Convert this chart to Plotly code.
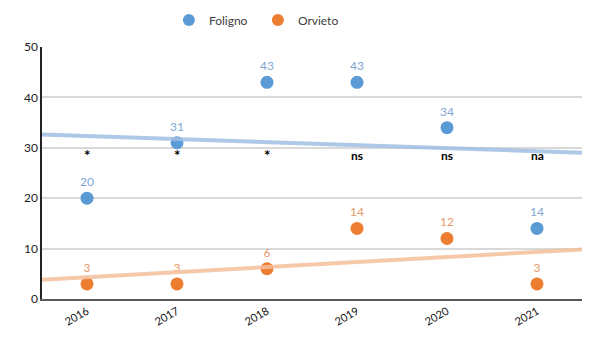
import numpy as np
import plotly.graph_objects as go

years = ["2016", "2017", "2018", "2019", "2020", "2021"]
foligno = [20, 31, 43, 43, 34, 14]
orvieto = [3, 3, 6, 14, 12, 3]
signif = ["*", "*", "*", "ns", "ns", "na"]
signif_y = 28.5

blue = "#5b9bd5"
orange = "#ed7d31"

fig = go.Figure()

xi = np.arange(len(years))
xr = np.array([-0.5, len(years) - 0.5])
for vals, col in [(foligno, "rgba(160,190,228,0.85)"), (orvieto, "rgba(244,190,155,0.85)")]:
    m, b = np.polyfit(xi, vals, 1)
    fig.add_trace(go.Scatter(x=xr, y=m * xr + b, mode="lines", xaxis="x2",
                             line=dict(color=col, width=4), showlegend=False, hoverinfo="skip"))

fig.add_trace(go.Scatter(x=years, y=foligno, mode="markers+text", name="Foligno",
                         marker=dict(color=blue, size=13),
                         text=[str(v) for v in foligno], textposition="top center",
                         textfont=dict(color="#7fa6d4", size=12)))
fig.add_trace(go.Scatter(x=years, y=orvieto, mode="markers+text", name="Orvieto",
                         marker=dict(color=orange, size=13),
                         text=[str(v) for v in orvieto], textposition="top center",
                         textfont=dict(color="#e79a6a", size=12)))

for i, s in enumerate(signif):
    fig.add_annotation(x=i, y=signif_y, xref="x2", yref="y", text="<b>%s</b>" % s,
                       showarrow=False,
                       font=dict(color="black", size=15 if s == "*" else 12))

fig.update_layout(
    width=600, height=342,
    margin=dict(l=42, r=18, t=47, b=43, autoexpand=False),
    paper_bgcolor="white", plot_bgcolor="white",
    font=dict(family="Lato, Open Sans, sans-serif", color="#333333"),
    legend=dict(orientation="h", x=0.235, xanchor="left", y=1.107, yanchor="middle",
                font=dict(size=12, color="#404040"), entrywidth=44,
                itemsizing="constant"),
    xaxis=dict(type="category", range=[-0.5, 5.5], showgrid=False,
               showline=True, linecolor="#595959", linewidth=1.5,
               tickangle=-30, tickfont=dict(size=11, color="#111111"), ticks=""),
    xaxis2=dict(overlaying="x", range=[-0.5, 5.5], visible=False),
    yaxis=dict(range=[0, 50], dtick=10, showgrid=True, gridcolor="#d9d9d9", gridwidth=1.5,
               showline=True, linecolor="#222222", linewidth=1.5, zeroline=False,
               tickfont=dict(size=12, color="#222222"), ticks=""),
)

fig.write_html("out.html")
